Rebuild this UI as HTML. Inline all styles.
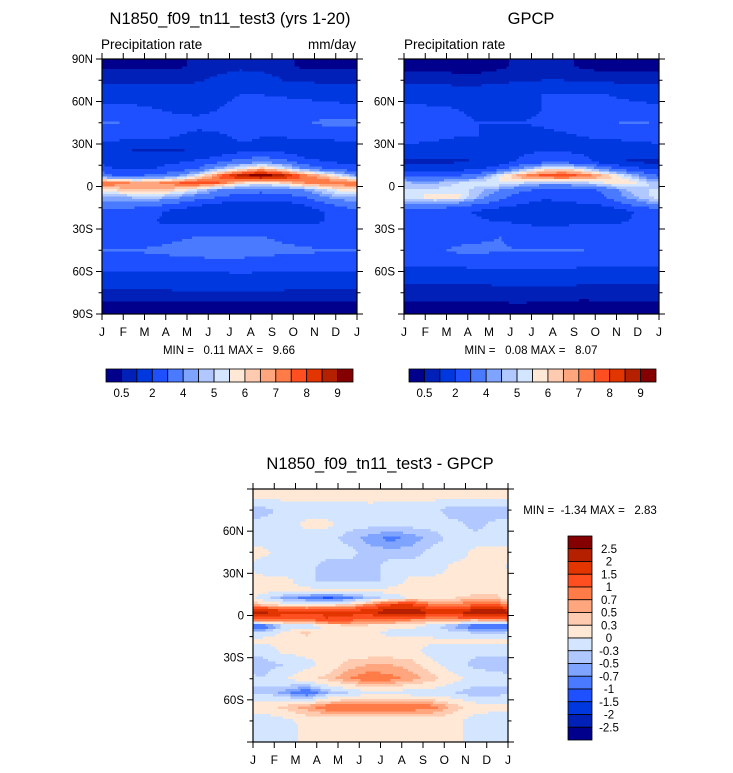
<!DOCTYPE html>
<html><head><meta charset="utf-8">
<style>
body{margin:0;background:#fff;width:733px;height:773px;overflow:hidden;font-family:"Liberation Sans",sans-serif}
svg{position:absolute;left:0;top:0}
text{white-space:pre}
</style></head><body>
<svg id="s" width="733" height="773"></svg>
<script>
const months=["J","F","M","A","M","J","J","A","S","O","N","D","J"];
const lats=[85,75,65,55,45,35,25,17.5,12.5,7.5,2.5,-2.5,-7.5,-12.5,-17.5,-25,-35,-45,-55,-65,-75,-85];
const precipLevels=[0.5,1,2,3,4,4.5,5,5.5,6,6.5,7,7.5,8,8.5,9];
const precipTickLabels=["0.5","","2","","4","","5","","6","","7","","8","","9"];
const diffLevels=[-2.5,-2,-1.5,-1,-0.7,-0.5,-0.3,0,0.3,0.5,0.7,1,1.5,2,2.5];
const diffTickLabels=["-2.5","-2","-1.5","-1","-0.7","-0.5","-0.3","0","0.3","0.5","0.7","1","1.5","2","2.5"];
const palette=["#00008c","#0020b8","#0038e0","#1e50ff","#4a7aff","#7fa4ff","#b0c8ff","#d4e6ff","#ffe8d6","#ffcbb0","#ffa67e","#ff7b48","#ff4f20","#e23500","#b52000","#850000"];
const camValues=[
[0.4,0.4,0.4,0.4,0.6,0.7,0.8,0.7,0.6,0.4,0.4,0.4],
[0.8,0.8,0.8,0.8,0.9,1.2,1.5,1.4,1.0,0.9,0.8,0.8],
[1.5,1.5,1.4,1.4,1.6,1.8,2.0,2.0,1.9,1.8,1.6,1.5],
[2.3,2.2,2.0,1.8,1.8,2.0,2.2,2.3,2.4,2.4,2.4,2.3],
[3.1,2.8,2.5,2.3,2.2,2.2,2.3,2.4,2.6,2.9,3.2,3.2],
[2.3,2.2,2.2,2.0,1.8,1.9,2.1,2.0,2.0,2.1,2.2,2.3],
[1.2,0.9,0.9,0.9,1.0,1.3,1.8,1.9,1.8,1.3,1.2,1.2],
[1.8,1.8,1.8,1.9,2.2,2.8,3.5,3.8,3.5,2.4,2.0,1.8],
[2.0,2.0,2.0,2.3,3.0,4.5,5.5,6.5,5.5,4.0,3.0,2.5],
[3.0,3.0,3.2,4.0,5.5,7.5,9.0,9.6,9.0,7.5,6.5,5.0],
[7.5,7.0,7.0,7.5,8.0,7.5,6.0,5.5,6.0,7.0,7.5,7.5],
[6.0,6.3,6.5,6.0,5.0,4.0,3.5,3.3,3.5,4.0,5.0,6.0],
[4.5,4.6,4.8,4.2,3.5,3.0,2.5,2.5,2.5,3.0,4.0,4.5],
[3.5,3.5,3.3,2.8,2.2,1.8,1.6,1.6,1.7,2.0,2.8,3.5],
[2.5,2.5,2.2,1.7,1.4,1.4,1.4,1.4,1.5,1.6,2.0,2.5],
[2.0,2.0,2.0,1.8,1.8,1.8,1.8,1.8,1.8,1.9,2.0,2.0],
[2.2,2.3,2.5,2.8,3.0,3.0,3.0,3.0,2.8,2.5,2.3,2.2],
[3.0,3.0,3.2,3.3,3.5,3.7,3.6,3.4,3.2,3.2,3.0,3.0],
[2.5,2.5,2.5,2.5,2.5,2.5,2.5,2.5,2.5,2.5,2.5,2.5],
[1.5,1.5,1.5,1.6,1.6,1.6,1.7,1.6,1.5,1.5,1.5,1.5],
[0.8,0.8,0.8,0.9,0.9,0.9,0.9,0.9,0.9,0.8,0.8,0.8],
[0.3,0.3,0.3,0.3,0.3,0.3,0.3,0.3,0.3,0.3,0.3,0.3]];
const gpcpValues=[
[0.3,0.3,0.3,0.3,0.4,0.6,0.7,0.6,0.4,0.3,0.3,0.3],
[0.8,0.8,0.7,0.7,0.8,0.9,1.0,1.0,0.9,0.8,0.8,0.8],
[1.6,1.5,1.5,1.5,1.7,1.8,2.0,2.0,2.0,2.0,1.8,1.7],
[2.2,2.1,2.0,1.8,1.6,1.8,2.0,2.2,2.4,2.4,2.3,2.2],
[2.6,2.5,2.2,2.0,2.0,2.0,2.1,2.2,2.3,2.8,3.1,3.0],
[2.5,2.3,2.0,2.0,1.8,1.7,1.8,1.9,2.0,2.1,2.2,2.4],
[1.4,1.2,1.2,1.3,1.5,1.8,2.0,2.0,1.8,1.5,1.4,1.4],
[0.9,0.9,0.9,1.0,1.4,2.2,2.6,2.6,2.3,1.4,0.9,0.8],
[1.5,1.5,1.6,1.9,2.6,4.0,5.5,6.0,5.0,3.5,2.5,2.0],
[2.6,2.8,3.0,3.5,5.5,7.0,7.8,8.0,7.5,6.5,5.0,3.5],
[4.5,4.5,5.0,5.5,5.5,5.0,4.5,4.5,4.8,5.5,6.0,5.0],
[5.0,5.2,5.3,4.7,4.0,3.2,2.8,2.6,2.8,3.2,4.5,5.0],
[5.5,5.8,5.8,4.5,3.3,2.5,2.2,2.2,2.4,3.0,4.2,5.0],
[4.0,4.0,3.6,3.0,2.5,2.0,1.7,1.8,2.0,2.2,3.0,3.8],
[2.3,2.2,2.2,1.9,1.5,1.3,0.9,0.9,0.9,1.2,1.9,2.2],
[2.2,2.2,2.2,2.1,2.0,1.9,1.8,1.8,1.8,1.9,2.0,2.2],
[2.2,2.4,2.6,2.8,3.0,2.6,2.4,2.6,2.8,2.5,2.3,2.2],
[2.6,2.8,3.2,3.2,3.1,3.0,3.0,3.0,3.0,2.8,2.6,2.6],
[2.2,2.2,2.2,2.3,2.3,2.3,2.3,2.3,2.2,2.2,2.2,2.2],
[1.2,1.2,1.2,1.2,1.3,1.3,1.3,1.3,1.2,1.2,1.2,1.2],
[0.7,0.7,0.7,0.7,0.7,0.8,0.8,0.8,0.7,0.7,0.7,0.7],
[0.4,0.4,0.4,0.4,0.4,0.4,0.3,0.3,0.3,0.4,0.4,0.4]];
const diffValues=[
[0.1,0.1,0.1,0.1,0.1,0.1,0.1,0.1,0.1,0.1,0.1,0.1],
[-0.4,-0.2,-0.2,-0.2,-0.2,-0.1,-0.2,-0.2,-0.2,-0.5,-0.5,-0.5],
[-0.2,-0.2,0.1,0.1,-0.2,-0.2,-0.2,-0.2,-0.2,-0.2,-0.4,-0.2],
[-0.2,-0.2,-0.2,-0.2,-0.4,-0.6,-0.8,-0.6,-0.4,-0.2,-0.2,-0.2],
[0.1,-0.2,-0.2,-0.2,-0.2,-0.4,-0.4,-0.4,-0.2,-0.2,0.1,0.1],
[-0.2,-0.2,-0.2,-0.4,-0.4,-0.4,-0.2,-0.2,-0.2,0.1,0.1,0.1],
[0.1,0.1,-0.2,-0.4,-0.4,-0.4,-0.2,0.1,0.1,0.1,0.1,0.1],
[0.1,0.1,0.1,0.1,0.1,0.1,0.1,0.1,0.1,0.1,0.2,0.2],
[-0.2,-0.6,-0.8,-1.1,-0.8,-0.4,-0.2,0.1,0.1,0.3,0.4,0.4],
[0.3,0.2,0.1,0.2,0.3,0.8,1.5,1.5,0.8,0.8,1.0,1.0],
[2.2,1.8,1.6,1.6,1.8,1.8,2.6,2.4,2.0,1.8,2.6,2.6],
[1.2,1.0,1.0,1.5,1.2,1.0,1.0,0.8,0.7,0.8,0.8,1.0],
[-1.0,-0.3,-0.2,0.0,0.3,0.2,0.1,0.1,-0.2,-0.6,-1.0,-1.2],
[-0.2,0.1,0.4,0.1,0.1,0.1,-0.1,-0.1,-0.2,-0.2,-0.3,-0.3],
[0.1,0.1,0.1,0.1,0.1,0.1,0.1,0.1,0.1,0.1,0.1,0.1],
[-0.2,0.1,0.1,0.1,0.1,0.1,0.1,0.1,-0.2,-0.2,-0.2,-0.2],
[-0.4,-0.3,-0.1,0.1,0.4,0.5,0.5,0.4,0.1,-0.2,-0.4,-0.4],
[-0.3,0.0,0.2,0.4,0.7,0.9,0.8,0.6,0.4,0.1,-0.1,-0.2],
[-0.3,-0.6,-1.0,-0.5,-0.3,-0.1,-0.1,-0.2,-0.2,-0.3,-0.5,-0.4],
[0.2,0.4,0.6,0.9,0.9,0.9,0.9,0.9,0.8,0.4,0.2,0.1],
[-0.2,-0.1,0.1,0.1,0.1,0.1,0.1,0.1,0.1,0.1,-0.2,-0.2],
[-0.2,-0.2,0.1,0.1,0.1,0.1,0.1,0.1,0.1,0.1,-0.2,-0.2]];

const NS="http://www.w3.org/2000/svg";
const svg=document.getElementById('s');
function mk(tag,attrs,parent,txt){const e=document.createElementNS(NS,tag);for(const k in attrs)e.setAttribute(k,attrs[k]);if(txt!==undefined)e.textContent=txt;(parent||svg).appendChild(e);return e;}
function levelIndex(v,lv){let i=0;while(i<lv.length&&v>=lv[i])i++;return i;}
function sample(vals,lat,mp){
  let r=0,fr;
  if(lat>=lats[0]){r=0;fr=0;}
  else if(lat<=lats[lats.length-1]){r=lats.length-2;fr=1;}
  else{while(!(lat<=lats[r]&&lat>=lats[r+1]))r++;fr=(lats[r]-lat)/(lats[r]-lats[r+1]);}
  let cm=mp-0.5;let c0=Math.floor(cm);let fc=cm-c0;
  const ci=c=>((c%12)+12)%12;
  const a=vals[r][ci(c0)],b=vals[r][ci(c0+1)],c=vals[r+1][ci(c0)],d=vals[r+1][ci(c0+1)];
  return (a*(1-fc)+b*fc)*(1-fr)+(c*(1-fc)+d*fc)*fr;
}
function panel(name,x0,y0,w,h,vals,lv,yLabels){
  const g=mk('g',{},svg);
  
  
  const fills=mk('g',{'shape-rendering':'crispEdges'},g);
  
  
  const xs=m=>x0+m*w/12;
  const ys=lat=>y0+(90-lat)*h/180;
  const step=2.5;
  const nx=Math.ceil(w/step),ny=Math.ceil(h/step);
  for(let j=0;j<ny;j++){
    const py=y0+j*step;
    const lat=90-((py+step/2-y0)/h)*180;
    let runStart=0,runCol=null;
    for(let i=0;i<=nx;i++){
      let col=null;
      if(i<nx){const mp=((i+0.5)*step)/w*12;col=palette[levelIndex(sample(vals,lat,mp),lv)];}
      if(col!==runCol){
        if(runCol!==null){
          const cell=mk('rect',{x:x0+runStart*step,y:py,width:Math.min((i-runStart)*step,w-runStart*step)+0.5,height:Math.min(step,y0+h-py)+0.5,fill:runCol},fills);
          
          
        }
        runStart=i;runCol=col;
      }
    }
  }
  mk('rect',{x:x0,y:y0,width:w,height:h,fill:'none',stroke:'#000','stroke-width':1.2},g);
  for(let m=0;m<=12;m++){
    const x=xs(m);
    mk('line',{x1:x,y1:y0,x2:x,y2:y0-6,stroke:'#000'},g);
    mk('line',{x1:x,y1:y0+h,x2:x,y2:y0+h+6,stroke:'#000'},g);
    const t=mk('text',{x:x,y:y0+h+22,'text-anchor':'middle','font-size':12},g,months[m]);
    
    
  }
  for(let lat=90;lat>=-90;lat-=15){
    const y=ys(lat),L=(lat%30===0)?6:3.5;
    mk('line',{x1:x0,y1:y,x2:x0-L,y2:y,stroke:'#000'},g);
    mk('line',{x1:x0+w,y1:y,x2:x0+w+L,y2:y,stroke:'#000'},g);
  }
  yLabels.forEach(([lat,lab])=>{
    const t=mk('text',{x:x0-9,y:ys(lat)+4,'text-anchor':'end','font-size':11.5},g,lab);
    
    
  });
}
function text(name,x,y,s,size,anchor){
  const t=mk('text',{x:x,y:y,'font-size':size,'text-anchor':anchor||'start'},svg,s);
  
  
}
function hbar(name,x0,y0,w,h){
  const g=mk('g',{},svg);
  
  
  const bw=w/16;
  for(let i=0;i<16;i++)mk('rect',{x:x0+i*bw,y:y0,width:bw,height:h,fill:palette[i],stroke:'#000','stroke-width':0.8},g);
  precipTickLabels.forEach((l,i)=>{if(l)mk('text',{x:x0+(i+1)*bw,y:y0+h+15,'text-anchor':'middle','font-size':11.5},g,l);});
}
function vbar(name,x0,y0,w,h){
  const g=mk('g',{},svg);
  
  
  const bh=h/16;
  for(let i=0;i<16;i++)mk('rect',{x:x0,y:y0+i*bh,width:w,height:bh,fill:palette[15-i],stroke:'#000','stroke-width':0.8},g);
  for(let i=0;i<15;i++)mk('text',{x:x0+w+17,y:y0+(i+1)*bh+4,'text-anchor':'middle','font-size':11.5},g,diffTickLabels[14-i]);
}
const yl1=[[90,"90N"],[60,"60N"],[30,"30N"],[0,"0"],[-30,"30S"],[-60,"60S"],[-90,"90S"]];
const yl2=[[60,"60N"],[30,"30N"],[0,"0"],[-30,"30S"],[-60,"60S"]];
panel('model-panel',102,59,255,255,camValues,precipLevels,yl1);
panel('gpcp-panel',404,59,255,255,gpcpValues,precipLevels,yl2);
panel('difference-panel',253,489,255,253,diffValues,diffLevels,yl2);
text('model-title',230,24,'N1850_f09_tn11_test3 (yrs 1-20)',16.5,'middle');
text('model-subtitle',101,49,'Precipitation rate',13.5);
text('units-label',356,49,'mm/day',13.5,'end');
text('gpcp-title',531,24,'GPCP',16.5,'middle');
text('gpcp-subtitle',404,49,'Precipitation rate',13.5);
text('model-minmax',229,354,'MIN =   0.11 MAX =   9.66',11.5,'middle');
text('gpcp-minmax',531,354,'MIN =   0.08 MAX =   8.07',11.5,'middle');
text('difference-title',380,469,'N1850_f09_tn11_test3 - GPCP',16.5,'middle');
text('difference-minmax',590,514,'MIN =  -1.34 MAX =   2.83',11.5,'middle');
hbar('model-colorbar',106,369,247,13);
hbar('gpcp-colorbar',409,369,247,13);
vbar('difference-colorbar',568,536,24,204);
</script>
</body></html>
